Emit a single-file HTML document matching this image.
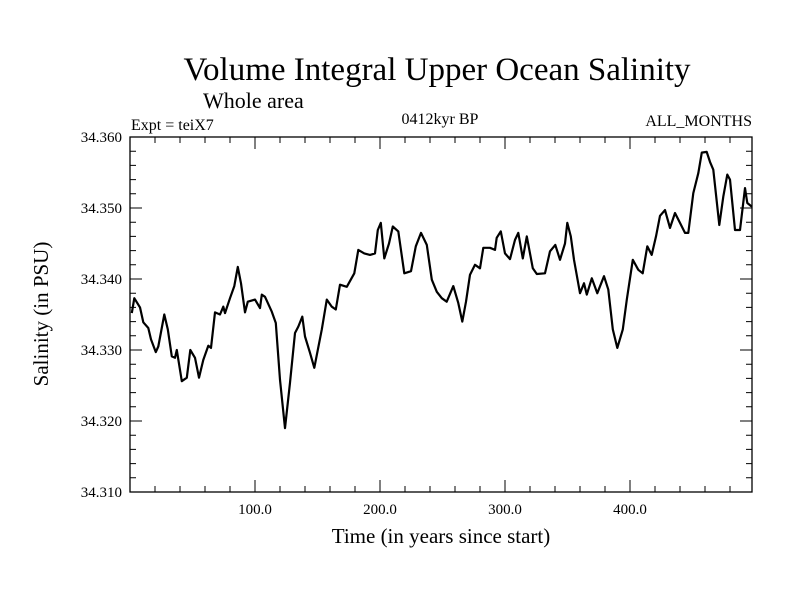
<!DOCTYPE html>
<html><head><meta charset="utf-8"><style>
body{margin:0;background:#fff}
svg text{font-family:"Liberation Serif",serif;fill:#000}
</style></head><body>
<svg id="chart" width="800" height="600" xmlns="http://www.w3.org/2000/svg">
<rect width="800" height="600" fill="#fff"/>
<text x="437" y="80" font-size="33" text-anchor="middle">Volume Integral Upper Ocean Salinity</text>
<text x="203" y="108" font-size="22">Whole area</text>
<text x="131" y="130" font-size="16">Expt = teiX7</text>
<text x="440" y="124" font-size="16" text-anchor="middle">0412kyr BP</text>
<text x="752" y="126" font-size="16" text-anchor="end">ALL_MONTHS</text>
<g id="axes"></g>
<text x="441" y="543" font-size="21" text-anchor="middle">Time (in years since start)</text>
<text transform="translate(48,314) rotate(-90)" font-size="21" text-anchor="middle">Salinity (in PSU)</text>
</svg>
<script>
const years=[1.4,3.4,8,10.6,14.6,16.8,20.6,22.6,27.4,30.2,33.4,36,37.4,41.4,45.4,48.2,52,55.2,58.6,62.6,64.8,68,72,74.6,76,80,83.4,86.2,88.8,92,94.2,100,104,105.4,108,113.4,116.6,120,124,128,132,134.6,137.8,140,144,147.4,153.4,157.4,161.4,164.6,168,173.4,179.4,182.6,187.4,192,196,198.2,200.6,203.4,207.2,210.2,214.6,219.4,224.8,228.6,232.8,237.4,241.4,245.4,249.4,253.4,258.6,262.6,265.8,268.8,272,276,280,282.6,288,292,293.4,296.6,300,304,308,310.6,314.2,317.4,322.2,325.4,332,336,340.2,344,348,349.8,352.6,355.2,360,363.2,365.4,369.4,373.8,379.2,382.6,386.2,389.8,394.2,397.4,402.2,406.6,410.2,413.8,417.4,420.8,424,428,432,436,439.4,444,446.6,450.6,454.6,457.4,461.4,464,466.6,471.4,474.6,477.8,480,484,488,492,493.8,497.4];
const salinity=[34.3352,34.3373,34.3360,34.3339,34.3331,34.3315,34.3297,34.3305,34.3350,34.3329,34.3291,34.3289,34.3300,34.3256,34.3261,34.3300,34.3289,34.3261,34.3286,34.3306,34.3303,34.3353,34.3350,34.3361,34.3352,34.3373,34.3390,34.3417,34.3394,34.3353,34.3368,34.3371,34.3359,34.3378,34.3375,34.3354,34.3338,34.3258,34.3190,34.3254,34.3324,34.3333,34.3347,34.3319,34.3296,34.3275,34.3329,34.3371,34.3361,34.3357,34.3392,34.3389,34.3408,34.3441,34.3436,34.3434,34.3436,34.3469,34.3479,34.3429,34.3450,34.3474,34.3467,34.3408,34.3411,34.3446,34.3465,34.3448,34.3399,34.3382,34.3373,34.3368,34.3390,34.3366,34.3340,34.3368,34.3406,34.3420,34.3415,34.3444,34.3444,34.3441,34.3458,34.3467,34.3436,34.3428,34.3455,34.3465,34.3429,34.3460,34.3415,34.3407,34.3408,34.3439,34.3448,34.3427,34.3450,34.3479,34.3460,34.3427,34.3380,34.3394,34.3378,34.3401,34.3380,34.3404,34.3385,34.3329,34.3303,34.3329,34.3371,34.3427,34.3413,34.3408,34.3446,34.3434,34.3460,34.3489,34.3497,34.3472,34.3493,34.3481,34.3465,34.3465,34.3521,34.3549,34.3578,34.3579,34.3565,34.3554,34.3476,34.3516,34.3547,34.3540,34.3469,34.3469,34.3528,34.3507,34.3502];
const xTickValues=[100,200,300,400];
const xTickLabels=["100.0","200.0","300.0","400.0"];
const yTickValues=[34.31,34.32,34.33,34.34,34.35,34.36];
const yTickLabels=["34.310","34.320","34.330","34.340","34.350","34.360"];

const L=130,R=752,T=137,B=492,X0=0,X1=497.6,Y0=34.31,Y1=34.36;
const sx=v=>L+(v-X0)/(X1-X0)*(R-L);
const sy=v=>B-(v-Y0)/(Y1-Y0)*(B-T);
const NS="http://www.w3.org/2000/svg";
const g=document.getElementById('axes');
function mk(t,a){const e=document.createElementNS(NS,t);for(const k in a)e.setAttribute(k,a[k]);g.appendChild(e);return e;}
const frame=mk('rect',{x:L,y:T,width:R-L,height:B-T,fill:'none',stroke:'#000','stroke-width':1.3});


let d='';
for(let v=20;v<X1;v+=20){const x=sx(v),len=(v%100===0)?12:6;d+=`M${x},${B}v${-len}M${x},${T}v${len}`;}
for(let i=0;i<=25;i++){const v=Y0+i*0.002,y=sy(v),len=(i%5===0)?12:6;d+=`M${L},${y}h${len}M${R},${y}h${-len}`;}
const ticks=mk('path',{d:d,stroke:'#000','stroke-width':1,fill:'none'});


xTickValues.forEach((v,i)=>{const t=mk('text',{x:sx(v),y:B+22,'font-size':15,'text-anchor':'middle'});t.textContent=xTickLabels[i];

});
yTickValues.forEach((v,i)=>{const t=mk('text',{x:L-8,y:sy(v)+5,'font-size':15,'text-anchor':'end'});t.textContent=yTickLabels[i];

});
const pts=years.map((y,i)=>sx(y).toFixed(1)+','+sy(salinity[i]).toFixed(1)).join(' ');
const line=mk('polyline',{points:pts,fill:'none',stroke:'#000','stroke-width':2.2,'stroke-linejoin':'round'});


</script>
</body></html>
